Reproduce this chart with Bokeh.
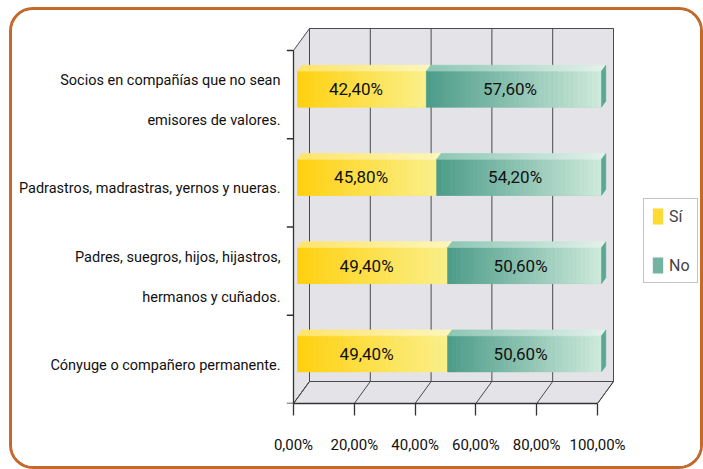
import numpy as np
from bokeh.plotting import figure
from bokeh.models import LinearAxis, FixedTicker, Range1d, Legend, LegendItem
from bokeh.core.properties import value
from bokeh.embed import file_html
from bokeh.resources import INLINE

# ---------------- data ----------------
categories = [
    "Cónyuge o compañero permanente.",
    "Padres, suegros, hijos, hijastros,\nhermanos y cuñados.",
    "Padrastros, madrastras, yernos y nueras.",
    "Socios en compañías que no sean\nemisores de valores.",
]
si = [49.4, 49.4, 45.8, 42.4]
no = [50.6, 50.6, 54.2, 57.6]
si_labels = ["49,40%", "49,40%", "45,80%", "42,40%"]
no_labels = ["50,60%", "50,60%", "54,20%", "57,60%"]
series = ["Sí", "No"]
x_ticks = [0, 20, 40, 60, 80, 100]
x_tick_labels = ["0,00%", "20,00%", "40,00%", "60,00%", "80,00%", "100,00%"]

# ---------------- styling / geometry ----------------
FONT = "Roboto"
OX, OY = 12, 10                  # canvas origin on the page (inside the css border)
W, H = 694, 462                  # outer size (border-box)
PXX, PXY = 3.04, 88.25           # pixels per data unit
DX, DY = 16 / PXX, 22 / PXY      # 3-D depth of the walls
F0, F1 = 0.25, 0.52              # depth fraction of bar front/back
HB = 0.204                       # bar half height
WALL = "#e4e4e8"
EDGE = "#4a4a4a"
SI_L, SI_R = "#ffd00f", "#faf08c"
NO_L, NO_R = "#4c9c88", "#cfeadc"
SI_TL, SI_TR = "#ffe46a", "#fdf6b8"
NO_TL, NO_TR = "#8cc6b4", "#e2f2ea"

ylo, yhi = -0.5, len(categories) - 0.5
xmin, xmax = x_ticks[0], x_ticks[-1]
x_start = (OX - 293) / PXX
x_end = x_start + W / PXX
frame_h = 403 - OY
y_end = ylo + frame_h / PXY

p = figure(width=W, height=H, output_backend="svg", toolbar_location=None,
           x_range=Range1d(x_start, x_end), y_range=Range1d(ylo, y_end),
           x_axis_location=None, y_axis_location=None,
           min_border_left=0, min_border_right=0, min_border_top=0,
           min_border_bottom=H - frame_h)
p.outline_line_color = None
p.background_fill_color = "white"
p.border_fill_color = "white"
for g in p.grid:
    g.visible = False
p.styles = {"border": "3px solid #c4692c", "border-radius": "24px", "overflow": "hidden",
            "margin-left": "9px", "margin-top": "7px"}

ax = LinearAxis(ticker=FixedTicker(ticks=x_ticks), bounds=(xmin, xmax),
                major_label_overrides={t: l for t, l in zip(x_ticks, x_tick_labels)},
                major_tick_out=12, major_tick_in=0, minor_tick_out=0, minor_tick_in=0,
                axis_line_color="#333333", major_tick_line_color="#333333",
                axis_line_width=1.3, major_tick_line_width=1.3,
                major_label_text_font=FONT, major_label_text_font_size="15px",
                major_label_text_color="#111111", major_label_standoff=20)
p.add_layout(ax, "below")

# ---------------- 3-D box ----------------
p.quad(left=xmin + DX, right=xmax + DX, bottom=ylo + DY, top=yhi + DY,
       fill_color=WALL, line_color=EDGE, line_width=1)
p.patch([xmin, xmin + DX, xmin + DX, xmin], [ylo, ylo + DY, yhi + DY, yhi],
        fill_color=WALL, line_color=EDGE, line_width=1)
p.patch([xmin, xmax, xmax + DX, xmin + DX], [ylo, ylo, ylo + DY, ylo + DY],
        fill_color=WALL, line_color=EDGE, line_width=1)
p.segment(x0=[t + DX for t in x_ticks], y0=ylo + DY, x1=[t + DX for t in x_ticks], y1=yhi + DY,
          line_color=EDGE, line_width=1)
p.segment(x0=x_ticks, y0=ylo, x1=[t + DX for t in x_ticks], y1=ylo + DY,
          line_color=EDGE, line_width=1)
# left axis with category boundary ticks
bounds = [ylo + i for i in range(len(categories) + 1)]
p.segment(x0=xmin, y0=ylo, x1=xmin, y1=yhi, line_color="#333333", line_width=1.3)
p.segment(x0=xmin - 2.2, y0=bounds, x1=xmin, y1=bounds, line_color="#333333", line_width=1.3)


def mix(c1, c2, t):
    a = np.array([int(c1[i:i + 2], 16) for i in (1, 3, 5)], float)
    b = np.array([int(c2[i:i + 2], 16) for i in (1, 3, 5)], float)
    c = a + (b - a) * t
    return "#%02x%02x%02x" % tuple(int(round(v)) for v in c)


N = 36
starts = {"Sí": [0.0] * len(si), "No": si}
ends = {"Sí": si, "No": [s + n for s, n in zip(si, no)]}
front_cols = {"Sí": (SI_L, SI_R), "No": (NO_L, NO_R)}
top_cols = {"Sí": (SI_TL, SI_TR), "No": (NO_TL, NO_TR)}
base_renderers = {}
for s in series:
    A, B = starts[s], ends[s]
    cl, cr = front_cols[s]
    tl, tr = top_cols[s]
    # solid base face (used by the legend)
    base_renderers[s] = p.quad(left=[a + F0 * DX for a in A], right=[b + F0 * DX for b in B],
                               bottom=[i - HB + F0 * DY for i in range(len(A))],
                               top=[i + HB + F0 * DY for i in range(len(A))],
                               fill_color=mix(cl, cr, 0.3), line_color=None)
    L, R, Bo, T, C = [], [], [], [], []
    txs, tys, tc = [], [], []
    for i, (a, b) in enumerate(zip(A, B)):
        for k in range(N):
            xa = a + (b - a) * k / N
            xb = a + (b - a) * (k + 1) / N
            t = (k + 0.5) / N
            col = mix(cl, cr, t)
            L.append(xa + F0 * DX); R.append(xb + F0 * DX)
            Bo.append(i - HB + F0 * DY); T.append(i + HB + F0 * DY); C.append(col)
            txs.append([xa + F0 * DX, xb + F0 * DX, xb + F1 * DX, xa + F1 * DX])
            tys.append([i + HB + F0 * DY, i + HB + F0 * DY, i + HB + F1 * DY, i + HB + F1 * DY])
            tc.append(mix(tl, tr, t))
    p.quad(left=L, right=R, bottom=Bo, top=T, fill_color=C, line_color=C, line_width=0.6)
    p.patches(txs, tys, fill_color=tc, line_color=tc, line_width=0.6)

# right end faces of the No bars
ex, ey = [], []
for i, e in enumerate(ends["No"]):
    ex.append([e + F0 * DX, e + F1 * DX, e + F1 * DX, e + F0 * DX])
    ey.append([i - HB + F0 * DY, i - HB + F1 * DY, i + HB + F1 * DY, i + HB + F0 * DY])
p.patches(ex, ey, fill_color="#5aa892", line_color="#5aa892", line_width=0.5)

# value labels
p.text(x=[(a + b) / 2 + F0 * DX for a, b in zip(starts["Sí"], ends["Sí"])],
       y=[i + F0 * DY for i in range(len(si))], text=si_labels, x_offset=-6,
       text_align="center", text_baseline="middle", text_font=value(FONT),
       text_font_size="17px", text_color="#111111")
p.text(x=[(a + b) / 2 + F0 * DX for a, b in zip(starts["No"], ends["No"])],
       y=[i + F0 * DY for i in range(len(no))], text=no_labels, x_offset=-4,
       text_align="center", text_baseline="middle", text_font=value(FONT),
       text_font_size="17px", text_color="#111111")

# category labels
LS = 40 / PXY
lx, ly, lt = [], [], []
for i, cat in enumerate(categories):
    lines = cat.split("\n")
    n = len(lines)
    for j, ln in enumerate(lines):
        lx.append(xmin - 13 / PXX)
        ly.append(i - 6 / PXY + ((n - 1) / 2 - j) * LS)
        lt.append(ln)
p.text(x=lx, y=ly, text=lt, text_align="right", text_baseline="middle",
       text_font=value(FONT), text_font_size="14.5px", text_color="#111111")

legend = Legend(items=[LegendItem(label=s, renderers=[base_renderers[s]]) for s in series],
                location=(643 - OX, 403 - 283), orientation="vertical",
                glyph_width=13, glyph_height=20, label_height=20, spacing=29, padding=7,
                margin=0, label_standoff=5, label_text_font=FONT, label_text_font_size="16px",
                border_line_color="#888888", border_line_width=1, background_fill_alpha=1)
p.add_layout(legend)

open("out.html", "w").write(file_html(p, INLINE))
